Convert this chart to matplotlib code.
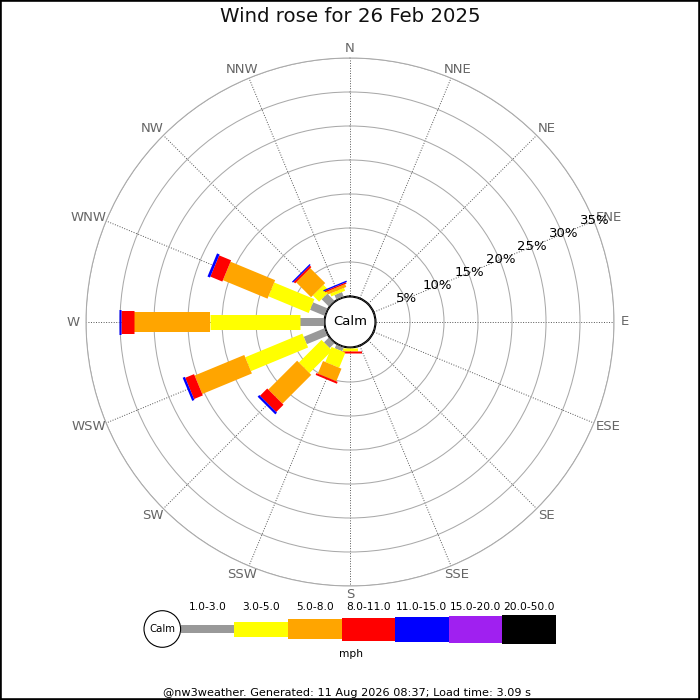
import numpy as np
import matplotlib
matplotlib.use('Agg')
import matplotlib.pyplot as plt
from matplotlib.patches import Circle, Rectangle

# ---------------- data ----------------
directions = ['N', 'NNE', 'NE', 'ENE', 'E', 'ESE', 'SE', 'SSE',
              'S', 'SSW', 'SW', 'WSW', 'W', 'WNW', 'NW', 'NNW']
speed_classes = ['1.0-3.0', '3.0-5.0', '5.0-8.0', '8.0-11.0',
                 '11.0-15.0', '15.0-20.0', '20.0-50.0']
# percent of time per direction, for each speed class (mph)
#            N  NNE NE ENE E ESE SE SSE  S    SSW  SW   WSW  W     WNW  NW   NNW
s_1_3   = [0, 0, 0, 0, 0, 0, 0, 0, 0.0, 0.6, 1.0, 3.3, 3.5, 2.3, 1.5, 0.7]
s_3_5   = [0, 0, 0, 0, 0, 0, 0, 0, 0.5, 2.4, 4.7, 9.1, 13.2, 6.4, 1.3, 0.45]
s_5_8   = [0, 0, 0, 0, 0, 0, 0, 0, 0.0, 2.0, 6.0, 7.9, 11.3, 7.1, 3.1, 0.45]
s_8_11  = [0, 0, 0, 0, 0, 0, 0, 0, 0.2, 0.3, 1.5, 1.4, 1.9, 1.9, 0.3, 0.2]
s_11_15 = [0, 0, 0, 0, 0, 0, 0, 0, 0.0, 0.0, 0.35, 0.35, 0.2, 0.4, 0.2, 0.2]
s_15_20 = [0] * 16
s_20_50 = [0] * 16
series = [s_1_3, s_3_5, s_5_8, s_8_11, s_11_15, s_15_20, s_20_50]
ring_pcts = [5, 10, 15, 20, 25, 30, 35]

title = 'Wind rose for 26 Feb 2025'
footer = '@nw3weather. Generated: 11 Aug 2026 08:37; Load time: 3.09 s'

# ---------------- style ----------------
colors = ['#999999', '#ffff00', '#ffa500', '#ff0000', '#0000ff', '#a020f0', '#000000']
bar_px = [8, 15, 20, 23, 25, 27, 29]          # bar thickness in pixels
PT = 0.72                                      # points per pixel at 100 dpi

fig = plt.figure(figsize=(7, 7), dpi=100)
fig.patch.set_facecolor('white')

R_OUT = 264.0            # outer ring radius, px
CX, CY = 350.0, 322.0    # centre, px from top-left
CALM_R = 26.0            # radius of r = 0 in px
rmax = 35.0
rorigin = -CALM_R * rmax / (R_OUT - CALM_R)

ax = fig.add_axes([(CX - R_OUT) / 700, (700 - CY - R_OUT) / 700,
                   2 * R_OUT / 700, 2 * R_OUT / 700], projection='polar')
ax.set_theta_zero_location('N')
ax.set_theta_direction(-1)
ax.set_ylim(0, rmax)
ax.set_rorigin(rorigin)

theta = np.deg2rad(np.arange(16) * 22.5)
ax.set_thetagrids(np.arange(16) * 22.5, labels=[''] * 16)
ax.set_rgrids(ring_pcts, labels=[''] * len(ring_pcts))
ax.xaxis.grid(True, color='#555555', linestyle=(0, (1, 1.6)), linewidth=0.7)
ax.yaxis.grid(True, color='#aaaaaa', linestyle='-', linewidth=0.75)
ax.spines['polar'].set_color('#aaaaaa')
ax.spines['polar'].set_linewidth(0.75)
for key in ('inner', 'start', 'end'):
    if key in ax.spines:
        ax.spines[key].set_visible(False)
ax.tick_params(length=0)

# stacked radial bars
for d in range(16):
    base = 0.0
    for k, s in enumerate(series):
        v = s[d]
        if v > 0:
            ax.plot([theta[d], theta[d]], [base, base + v], color=colors[k],
                    linewidth=bar_px[k] * PT, solid_capstyle='butt', zorder=3)
        base += v

# direction labels (pushed sideways by part of their width, like the original)
r_lab = (273.0 / R_OUT) * (rmax - rorigin) + rorigin
dir_texts = []
for d in range(16):
    t = ax.annotate(directions[d], xy=(theta[d], r_lab), xytext=(0, 0),
                    textcoords='offset pixels', ha='center', va='center',
                    fontsize=9.5, color='#666666', annotation_clip=False)
    dir_texts.append(t)
fig.canvas.draw()
renderer = fig.canvas.get_renderer()
for d, t in enumerate(dir_texts):
    w = t.get_window_extent(renderer).width
    t.xyann = (0.55 * (w / 2) * np.sin(theta[d]), 0)

# percentage labels along ENE
for p in ring_pcts:
    ax.text(np.deg2rad(67.5), p + 0.15, f'{p}%', ha='center', va='center',
            fontsize=9.5, color='black', zorder=5, clip_on=False)

# calm circle
ax.add_patch(Circle((0.5, 0.5), 25.0 / (2 * R_OUT), transform=ax.transAxes,
                    facecolor='white', edgecolor='black', linewidth=0.8,
                    zorder=6, clip_on=False))
ax.text(0.5, 0.5, 'Calm', transform=ax.transAxes, ha='center', va='center',
        fontsize=9.5, color='black', zorder=7)

# ---------------- overlay (title, legend, footer) ----------------
lax = fig.add_axes([0, 0, 1, 1], zorder=-1)
lax.set_xlim(0, 700)
lax.set_ylim(700, 0)
lax.axis('off')

fig.text(0.5, 1 - 17 / 700, title, ha='center', va='center', fontsize=14.2,
         color='#111111')

leg_x0, leg_w, leg_y = 180.7, 53.6, 629.0
lefts = leg_x0 + leg_w * np.arange(len(speed_classes))
heights = np.array(bar_px, dtype=float)
lax.bar(lefts, heights, width=leg_w, bottom=leg_y - heights / 2, align='edge',
        color=colors, linewidth=0)
for i, lab in enumerate(speed_classes):
    lax.text(lefts[i] + leg_w / 2, 607, lab, ha='center', va='center',
             fontsize=7.7, color='black')
lax.add_patch(Circle((162.3, leg_y), 18.3, facecolor='white', edgecolor='black',
                     linewidth=0.8))
lax.text(162.3, leg_y, 'Calm', ha='center', va='center', fontsize=7.3)
lax.text(351, 654, 'mph', ha='center', va='center', fontsize=7.7)
lax.text(347, 692.5, footer, ha='center', va='center', fontsize=8.15)

fig.add_artist(Rectangle((0, 0), 1, 1, transform=fig.transFigure, fill=False,
                         edgecolor='black', linewidth=2.6))

fig.savefig('out.png', dpi=100, facecolor='white')
